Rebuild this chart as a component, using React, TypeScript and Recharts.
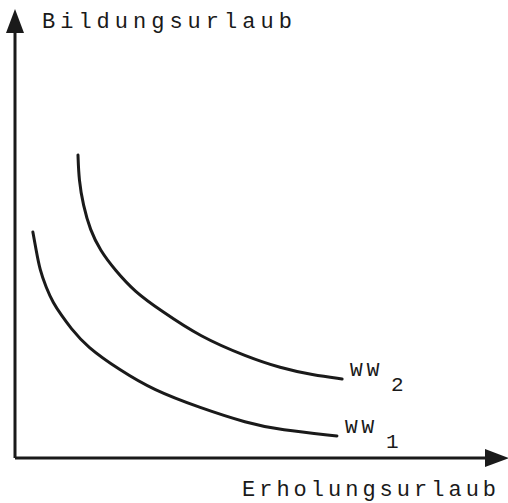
import { LineChart, Line, XAxis, YAxis } from "recharts";

// curve WW1 (lower indifference curve)
const ww1X = [3.8, 4.5, 5.3, 6.6, 8.1, 10.0, 11.7, 15.3, 22.3, 29.4, 39.4, 49.4, 56.4, 68.5];
const ww1Y = [53.2, 48.9, 44.2, 40.2, 36.5, 33.4, 30.8, 26.1, 20.7, 16.0, 11.8, 8.2, 6.6, 5.2];

// curve WW2 (upper indifference curve)
const ww2X = [13.4, 13.6, 14.5, 16.0, 18.1, 21.3, 25.5, 30.9, 39.4, 49.4, 56.4, 63.4, 69.6];
const ww2Y = [71.3, 65.4, 59.5, 53.6, 48.9, 44.2, 39.1, 34.8, 28.5, 23.8, 21.2, 19.5, 18.6];

const curveLabels = ["WW", "WW"];
const curveSubs = ["1", "2"];
const xTitle = "Erholungsurlaub";
const yTitle = "Bildungsurlaub";

const ww1 = ww1X.map((x, i) => ({ x, y: ww1Y[i] }));
const ww2 = ww2X.map((x, i) => ({ x, y: ww2Y[i] }));

const ink = "#1a1a1a";
const mono = "'Liberation Mono', 'DejaVu Sans Mono', monospace";

const endLabel = (lines: any[], idx: number) => (props: any) => {
  const { x, y, index } = props;
  if (index !== lines.length - 1) return null;
  return (
    <g key={`lbl-${idx}`}>
      <text x={x + 8} y={y - 3} fontFamily={mono} fontSize={21} letterSpacing={4} fill={ink}>
        {curveLabels[idx]}
      </text>
      <text x={x + 49} y={y + 12} fontFamily={mono} fontSize={21} fill={ink}>
        {curveSubs[idx]}
      </text>
    </g>
  );
};

const App = () => {
  return (
    <div style={{ position: "absolute", left: 0, top: 0, width: 508, height: 503, background: "#fff" }}>
      <LineChart width={508} height={503} margin={{ top: 33, right: 23, bottom: 44, left: 14 }}>
        <defs>
          <marker id="arrowHead" viewBox="0 -10 26 20" refX="0" refY="0" markerWidth="26" markerHeight="20"
            markerUnits="userSpaceOnUse" orient="auto-start-reverse">
            <path d="M0,-9 L24,0 L0,9 Z" fill={ink} />
          </marker>
        </defs>
        <XAxis
          type="number"
          dataKey="x"
          domain={[0, 100]}
          height={1}
          tick={false}
          tickLine={false}
          axisLine={{ stroke: ink, strokeWidth: 3, markerEnd: "url(#arrowHead)" }}
        />
        <YAxis
          type="number"
          dataKey="y"
          domain={[0, 100]}
          width={1}
          tick={false}
          tickLine={false}
          axisLine={{ stroke: ink, strokeWidth: 3, markerStart: "url(#arrowHead)" }}
        />
        <Line
          data={ww1}
          dataKey="y"
          type="basis"
          stroke={ink}
          strokeWidth={3}
          strokeLinecap="round"
          dot={false}
          isAnimationActive={false}
          label={endLabel(ww1, 0)}
        />
        <Line
          data={ww2}
          dataKey="y"
          type="basis"
          stroke={ink}
          strokeWidth={3}
          strokeLinecap="round"
          dot={false}
          isAnimationActive={false}
          label={endLabel(ww2, 1)}
        />
      </LineChart>
      <div style={{ position: "absolute", left: 42, top: 9, fontFamily: mono, fontSize: 22, letterSpacing: 5, color: ink, whiteSpace: "nowrap", lineHeight: "28px" }}>
        {yTitle}
      </div>
      <div style={{ position: "absolute", left: 242, top: 477, fontFamily: mono, fontSize: 22, letterSpacing: 4, color: ink, whiteSpace: "nowrap", lineHeight: "28px" }}>
        {xTitle}
      </div>
    </div>
  );
};

export default App;
